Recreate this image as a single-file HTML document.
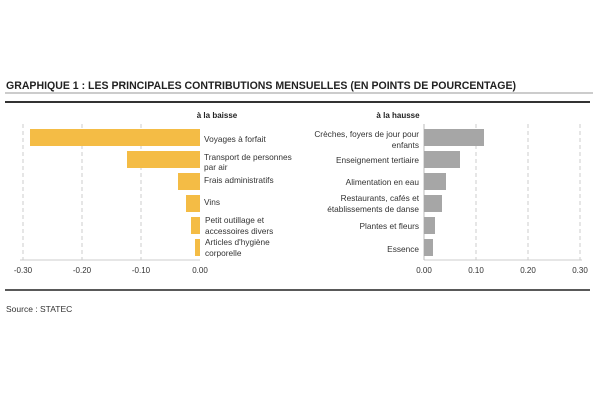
<!DOCTYPE html>
<html><head><meta charset="utf-8"><style>
body{margin:0;width:600px;height:400px;background:#fff;overflow:hidden;font-family:"Liberation Sans",sans-serif}
</style></head><body>
<svg width="600" height="400" xmlns="http://www.w3.org/2000/svg" font-family="Liberation Sans, sans-serif">
<text x="6" y="89" font-size="10.6" font-weight="bold" fill="#222" textLength="510" lengthAdjust="spacingAndGlyphs">GRAPHIQUE 1 : LES PRINCIPALES CONTRIBUTIONS MENSUELLES (EN POINTS DE POURCENTAGE)</text>
<line x1="5" y1="93" x2="593" y2="93" stroke="#999" stroke-width="1"/>
<line x1="5" y1="102" x2="590" y2="102" stroke="#333" stroke-width="2"/>
<line x1="5" y1="290" x2="590" y2="290" stroke="#222" stroke-width="1.5"/>
<text x="6" y="312" font-size="8.5" fill="#333">Source : STATEC</text>
<g stroke="#ccc" stroke-dasharray="4,3" stroke-width="1">
<line x1="23" y1="124" x2="23" y2="260"/><line x1="82" y1="124" x2="82" y2="260"/><line x1="141" y1="124" x2="141" y2="260"/>
<line x1="476" y1="124" x2="476" y2="260"/><line x1="528" y1="124" x2="528" y2="260"/><line x1="580" y1="124" x2="580" y2="260"/>
</g>
<line x1="20" y1="260" x2="200" y2="260" stroke="#ccc"/>
<line x1="424" y1="260" x2="582" y2="260" stroke="#ccc"/>
<line x1="424" y1="124" x2="424" y2="260" stroke="#bbb"/>
<g fill="#F4BC45">
<rect x="30" y="129" width="170" height="17"/><rect x="127" y="151" width="73" height="17"/>
<rect x="178" y="173" width="22" height="17"/><rect x="186" y="195" width="14" height="17"/>
<rect x="191" y="217" width="9" height="17"/><rect x="195" y="239" width="5" height="17"/>
</g>
<g fill="#A6A6A6">
<rect x="424" y="129" width="60" height="17"/><rect x="424" y="151" width="36" height="17"/>
<rect x="424" y="173" width="22" height="17"/><rect x="424" y="195" width="18" height="17"/>
<rect x="424" y="217" width="11" height="17"/><rect x="424" y="239" width="9" height="17"/>
</g>
<text x="217" y="118" font-size="8" font-weight="bold" fill="#222" text-anchor="middle">à la baisse</text>
<text x="398" y="118" font-size="8" font-weight="bold" fill="#222" text-anchor="middle">à la hausse</text>
<g font-size="8.3" fill="#333">
<text x="204" y="142">Voyages à forfait</text>
<text x="204" y="160">Transport de personnes</text><text x="204" y="170">par air</text>
<text x="204" y="183">Frais administratifs</text>
<text x="204" y="205">Vins</text>
<text x="205" y="223">Petit outillage et</text><text x="205" y="234">accessoires divers</text>
<text x="205" y="245">Articles d'hygiène</text><text x="205" y="256">corporelle</text>
</g>
<g font-size="8.3" fill="#333" text-anchor="end">
<text x="419" y="137">Crèches, foyers de jour pour</text><text x="419" y="148">enfants</text>
<text x="419" y="163">Enseignement tertiaire</text>
<text x="419" y="185">Alimentation en eau</text>
<text x="419" y="201">Restaurants, cafés et</text><text x="419" y="212">établissements de danse</text>
<text x="419" y="229">Plantes et fleurs</text>
<text x="419" y="252">Essence</text>
</g>
<g font-size="8" fill="#333" text-anchor="middle">
<text x="23" y="273">-0.30</text><text x="82" y="273">-0.20</text><text x="141" y="273">-0.10</text><text x="200" y="273">0.00</text>
<text x="424" y="273">0.00</text><text x="476" y="273">0.10</text><text x="528" y="273">0.20</text><text x="580" y="273">0.30</text>
</g>
</svg>
</body></html>
